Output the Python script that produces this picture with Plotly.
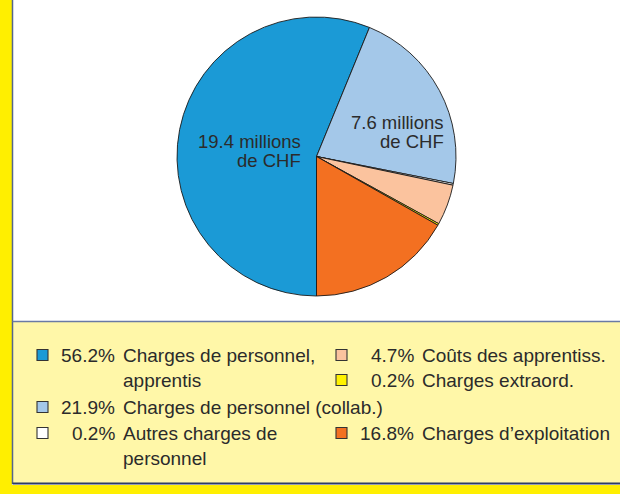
import plotly.graph_objects as go

# ---- data ----
categories = [
    "Charges de personnel,\napprentis",
    "Charges de personnel (collab.)",
    "Autres charges de\npersonnel",
    "Coûts des apprentiss.",
    "Charges extraord.",
    "Charges d\u2019exploitation",
]
shares_pct = [56.2, 21.9, 0.2, 4.7, 0.2, 16.8]
millions_chf = [19.4, 7.6, None, None, None, None]
colors = ["#1b9ad6", "#a4c8e9", "#ffffff", "#fbc39e", "#fff200", "#f37021"]

W, H = 620, 494
def px(x): return x / W
def py(y): return 1 - y / H

FONT = "Liberation Sans, Arial, Helvetica, sans-serif"
TXT = "#2b2b2b"

fig = go.Figure()
fig.add_trace(go.Pie(
    values=shares_pct,
    labels=[c.replace("\n", " ") for c in categories],
    marker=dict(colors=colors, line=dict(color="#1a1a1a", width=0.9)),
    sort=False, direction="clockwise", rotation=180,
    textinfo="none", hoverinfo="skip", showlegend=False,
    domain=dict(x=[px(177), px(456)], y=[py(296), py(17)]),
))

shapes = []
annotations = []
# frame
shapes.append(dict(type="rect", xref="paper", yref="paper", x0=px(13), x1=px(640),
                   y0=py(484), y1=py(322), fillcolor="#fff7a8", line=dict(width=0), layer="below"))
shapes.append(dict(type="rect", xref="paper", yref="paper", x0=0, x1=px(12),
                   y0=0, y1=1, fillcolor="#ffef00", line=dict(width=0), layer="below"))
shapes.append(dict(type="rect", xref="paper", yref="paper", x0=0, x1=1,
                   y0=0, y1=py(485), fillcolor="#ffef00", line=dict(width=0), layer="below"))
shapes.append(dict(type="line", xref="paper", yref="paper", x0=px(12.5), x1=px(12.5),
                   y0=py(484), y1=1, line=dict(color="#55668c", width=1.5), layer="below"))
shapes.append(dict(type="line", xref="paper", yref="paper", x0=px(12.5), x1=px(640),
                   y0=py(321.5), y1=py(321.5), line=dict(color="#6a7aa4", width=1.6), layer="below"))
shapes.append(dict(type="line", xref="paper", yref="paper", x0=px(12.5), x1=px(640),
                   y0=py(483.5), y1=py(483.5), line=dict(color="#2c3c66", width=2.2), layer="below"))

# legend layout: (column, first-line y)
legend_pos = [(0, 355), (0, 407), (0, 433), (1, 355), (1, 380), (1, 433)]
col_box_x = [37, 336]
col_pct_right = [117, 416]
col_label_x = [121, 420]
LINE = 25.5
for i, cat in enumerate(categories):
    col, y = legend_pos[i]
    bx = col_box_x[col]
    shapes.append(dict(type="rect", xref="paper", yref="paper",
                       x0=px(bx), x1=px(bx + 11), y0=py(y + 5.5), y1=py(y - 5.5),
                       fillcolor=colors[i], line=dict(color="#333333", width=1.1)))
    annotations.append(dict(xref="paper", yref="paper", x=px(col_pct_right[col]), y=py(y),
                            xanchor="right", yanchor="middle", showarrow=False,
                            text=f"{shares_pct[i]:.1f}%", font=dict(family=FONT, size=19, color=TXT)))
    for j, line in enumerate(cat.split("\n")):
        annotations.append(dict(xref="paper", yref="paper", x=px(col_label_x[col]), y=py(y + j * LINE),
                                xanchor="left", yanchor="middle", showarrow=False,
                                text=line, font=dict(family=FONT, size=19, color=TXT)))

# in-pie labels
pie_label_pos = {0: (303, 142), 1: (446, 123)}
for i, m in enumerate(millions_chf):
    if m is None:
        continue
    x, y = pie_label_pos[i]
    for j, line in enumerate([f"{m:.1f} millions", "de CHF"]):
        annotations.append(dict(xref="paper", yref="paper", x=px(x), y=py(y + j * 18.5),
                                xanchor="right", yanchor="middle", showarrow=False,
                                text=line, font=dict(family=FONT, size=18.5, color=TXT)))

fig.update_layout(
    width=W, height=H, margin=dict(l=0, r=0, t=0, b=0),
    paper_bgcolor="white", plot_bgcolor="white",
    shapes=shapes, annotations=annotations,
)
fig.write_html("out.html", config={"displayModeBar": False},
               post_script="document.body.style.margin='0';document.body.style.overflow='hidden';")
